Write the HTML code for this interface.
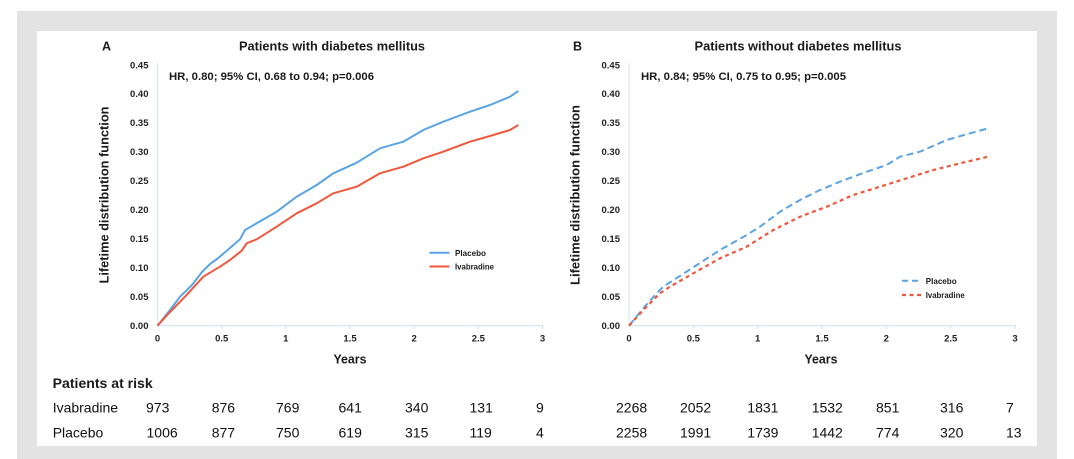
<!DOCTYPE html>
<html>
<head>
<meta charset="utf-8">
<style>
  html,body{margin:0;padding:0;background:#ffffff;}
  body{width:1074px;height:459px;overflow:hidden;}
  svg{display:block;font-family:"Liberation Sans",Arial,sans-serif;}
  .b{font-weight:bold;fill:#1a1a1a;}
  .t{font-size:9.5px;font-weight:bold;fill:#222;}
  .r{font-size:14px;fill:#111;}
</style>
</head>
<body>
<svg width="1074" height="459" viewBox="0 0 1074 459" xmlns="http://www.w3.org/2000/svg">
  <rect x="0" y="0" width="1074" height="459" fill="#ffffff"/>
  <rect x="17" y="11" width="1040" height="448" fill="#e3e3e3"/>
  <rect x="37" y="31" width="1000" height="415" fill="#ffffff"/>

  <!-- ================= Chart A ================= -->
  <text x="102" y="50.5" class="b" font-size="12.5">A</text>
  <text x="332" y="50.5" class="b" font-size="13" text-anchor="middle" textLength="186" lengthAdjust="spacingAndGlyphs">Patients with diabetes mellitus</text>
  <text x="169" y="80" class="b" font-size="11" textLength="205" lengthAdjust="spacingAndGlyphs">HR, 0.80; 95% CI, 0.68 to 0.94; p=0.006</text>

  <!-- axes -->
  <line x1="157.5" y1="63" x2="157.5" y2="326" stroke="#dbe7f0" stroke-width="1.2"/>
  <line x1="157.5" y1="325.7" x2="543" y2="325.7" stroke="#cfe2ef" stroke-width="1.2"/>
  <g stroke="#cfe2ef" stroke-width="1">
    <line x1="221.7" y1="325.7" x2="221.7" y2="329"/>
    <line x1="285.8" y1="325.7" x2="285.8" y2="329"/>
    <line x1="350" y1="325.7" x2="350" y2="329"/>
    <line x1="414.2" y1="325.7" x2="414.2" y2="329"/>
    <line x1="478.3" y1="325.7" x2="478.3" y2="329"/>
    <line x1="542.5" y1="325.7" x2="542.5" y2="329"/>
  </g>

  <!-- y tick labels A -->
  <g class="t" text-anchor="end">
    <text x="148.5" y="329">0.00</text>
    <text x="148.5" y="300">0.05</text>
    <text x="148.5" y="271">0.10</text>
    <text x="148.5" y="242.1">0.15</text>
    <text x="148.5" y="213.1">0.20</text>
    <text x="148.5" y="184.1">0.25</text>
    <text x="148.5" y="155.2">0.30</text>
    <text x="148.5" y="126.2">0.35</text>
    <text x="148.5" y="97.2">0.40</text>
    <text x="148.5" y="68.3">0.45</text>
  </g>
  <!-- x tick labels A -->
  <g class="t" text-anchor="middle">
    <text x="157.5" y="341.5">0</text>
    <text x="221.7" y="341.5">0.5</text>
    <text x="285.8" y="341.5">1</text>
    <text x="350" y="341.5">1.5</text>
    <text x="414.2" y="341.5">2</text>
    <text x="478.3" y="341.5">2.5</text>
    <text x="542.5" y="341.5">3</text>
  </g>
  <text x="350" y="363.5" class="b" font-size="12.5" text-anchor="middle" textLength="33" lengthAdjust="spacingAndGlyphs">Years</text>
  <text transform="translate(108.5,195) rotate(-90)" class="b" font-size="12.5" text-anchor="middle" textLength="177" lengthAdjust="spacingAndGlyphs">Lifetime distribution function</text>

  <!-- curves A -->
  <polyline fill="none" stroke="#5aa4e4" stroke-width="2" stroke-linejoin="round"
    points="157.5,325.7 170,310 180,296.7 192,285 202,272 210,264 217,259 223,254 240,239.3 245,230 256.7,223.3 276.7,211.7 296.7,196.7 316.7,185 333.3,173.3 356.7,162.7 380,148.3 403.3,141.7 423.3,130 443.3,121.7 470,111.7 490,105 510,96.7 518.3,91"/>
  <polyline fill="none" stroke="#f0583c" stroke-width="2" stroke-linejoin="round"
    points="157.5,325.7 170,312 185,296.7 203.3,276.7 220,266.7 230,260 241.7,250.7 246.7,243.3 256.7,239.3 276.7,226.7 296.7,213.3 316.7,203.3 333.3,193.3 356.7,186.7 380,173.3 403.3,166.7 423.3,158.3 443.3,151.7 470,141.7 490,136 510,130 518.3,125"/>

  <!-- legend A -->
  <line x1="429.5" y1="252.7" x2="449.5" y2="252.7" stroke="#5aa4e4" stroke-width="2"/>
  <line x1="429.5" y1="266.5" x2="449.5" y2="266.5" stroke="#f0583c" stroke-width="2"/>
  <text x="455" y="255.8" class="b" font-size="8.5" textLength="31" lengthAdjust="spacingAndGlyphs">Placebo</text>
  <text x="455" y="269.6" class="b" font-size="8.5" textLength="39" lengthAdjust="spacingAndGlyphs">Ivabradine</text>

  <!-- ================= Chart B ================= -->
  <text x="573" y="50.5" class="b" font-size="12.5">B</text>
  <text x="798" y="50.5" class="b" font-size="13" text-anchor="middle" textLength="207" lengthAdjust="spacingAndGlyphs">Patients without diabetes mellitus</text>
  <text x="641" y="80" class="b" font-size="11" textLength="205" lengthAdjust="spacingAndGlyphs">HR, 0.84; 95% CI, 0.75 to 0.95; p=0.005</text>

  <line x1="629" y1="63" x2="629" y2="326" stroke="#dbe7f0" stroke-width="1.2"/>
  <line x1="629" y1="325.7" x2="1016" y2="325.7" stroke="#cfe2ef" stroke-width="1.2"/>
  <g stroke="#cfe2ef" stroke-width="1">
    <line x1="693.3" y1="325.7" x2="693.3" y2="329"/>
    <line x1="757.7" y1="325.7" x2="757.7" y2="329"/>
    <line x1="822" y1="325.7" x2="822" y2="329"/>
    <line x1="886.3" y1="325.7" x2="886.3" y2="329"/>
    <line x1="950.7" y1="325.7" x2="950.7" y2="329"/>
    <line x1="1015" y1="325.7" x2="1015" y2="329"/>
  </g>

  <g class="t" text-anchor="end">
    <text x="620" y="329">0.00</text>
    <text x="620" y="300">0.05</text>
    <text x="620" y="271">0.10</text>
    <text x="620" y="242.1">0.15</text>
    <text x="620" y="213.1">0.20</text>
    <text x="620" y="184.1">0.25</text>
    <text x="620" y="155.2">0.30</text>
    <text x="620" y="126.2">0.35</text>
    <text x="620" y="97.2">0.40</text>
    <text x="620" y="68.3">0.45</text>
  </g>
  <g class="t" text-anchor="middle">
    <text x="629" y="341.5">0</text>
    <text x="693.3" y="341.5">0.5</text>
    <text x="757.7" y="341.5">1</text>
    <text x="822" y="341.5">1.5</text>
    <text x="886.3" y="341.5">2</text>
    <text x="950.7" y="341.5">2.5</text>
    <text x="1015" y="341.5">3</text>
  </g>
  <text x="821" y="363.5" class="b" font-size="12.5" text-anchor="middle" textLength="33" lengthAdjust="spacingAndGlyphs">Years</text>
  <text transform="translate(579.5,195) rotate(-90)" class="b" font-size="12.5" text-anchor="middle" textLength="180" lengthAdjust="spacingAndGlyphs">Lifetime distribution function</text>

  <!-- curves B (dashed) -->
  <polyline fill="none" stroke="#5aa4e4" stroke-width="2" stroke-dasharray="7 4"
    points="629,325.7 643.3,308.3 656.7,293.3 663.3,286.7 693.3,267.3 720,250 746.7,235 760,226.7 780,211.7 800,200 820,190 840,181.7 866.7,171.7 886.7,165 900,156.7 920,151.7 946.7,140 970,133.3 988.3,128.3"/>
  <polyline fill="none" stroke="#f0583c" stroke-width="2.2" stroke-dasharray="4 3.5"
    points="629,325.7 643.3,310 660,293.3 670,286.7 693.3,273.3 720,258.3 746.7,246.7 773.3,230 800,216.7 826.7,206.7 853.3,195 880,186.7 906.7,178.3 933.3,170 960,163.3 988.3,156.7"/>

  <!-- legend B -->
  <line x1="902" y1="280.7" x2="921" y2="280.7" stroke="#5aa4e4" stroke-width="2" stroke-dasharray="6 4"/>
  <line x1="902" y1="295" x2="921" y2="295" stroke="#f0583c" stroke-width="2.2" stroke-dasharray="4 3.5"/>
  <text x="925.7" y="283.8" class="b" font-size="8.5" textLength="31" lengthAdjust="spacingAndGlyphs">Placebo</text>
  <text x="925.7" y="298.1" class="b" font-size="8.5" textLength="39" lengthAdjust="spacingAndGlyphs">Ivabradine</text>

  <!-- ================= Patients at risk ================= -->
  <text x="52.7" y="388" class="b" font-size="13.5" fill="#111" textLength="100" lengthAdjust="spacingAndGlyphs">Patients at risk</text>
  <text x="52.7" y="412.3" class="r">Ivabradine</text>
  <text x="52.7" y="437.3" class="r">Placebo</text>

  <g class="r">
    <text x="146" y="412.3">973</text>
    <text x="211.7" y="412.3">876</text>
    <text x="276" y="412.3">769</text>
    <text x="338.5" y="412.3">641</text>
    <text x="405" y="412.3">340</text>
    <text x="469.5" y="412.3">131</text>
    <text x="536" y="412.3">9</text>

    <text x="146.5" y="437.3">1006</text>
    <text x="211.7" y="437.3">877</text>
    <text x="276" y="437.3">750</text>
    <text x="338.5" y="437.3">619</text>
    <text x="405" y="437.3">315</text>
    <text x="469.5" y="437.3">119</text>
    <text x="536" y="437.3">4</text>

    <text x="616" y="412.3">2268</text>
    <text x="680" y="412.3">2052</text>
    <text x="747.3" y="412.3">1831</text>
    <text x="811.7" y="412.3">1532</text>
    <text x="876" y="412.3">851</text>
    <text x="940" y="412.3">316</text>
    <text x="1006" y="412.3">7</text>

    <text x="616" y="437.3">2258</text>
    <text x="680" y="437.3">1991</text>
    <text x="747.3" y="437.3">1739</text>
    <text x="811.7" y="437.3">1442</text>
    <text x="876" y="437.3">774</text>
    <text x="940" y="437.3">320</text>
    <text x="1006" y="437.3">13</text>
  </g>
</svg>
</body>
</html>
